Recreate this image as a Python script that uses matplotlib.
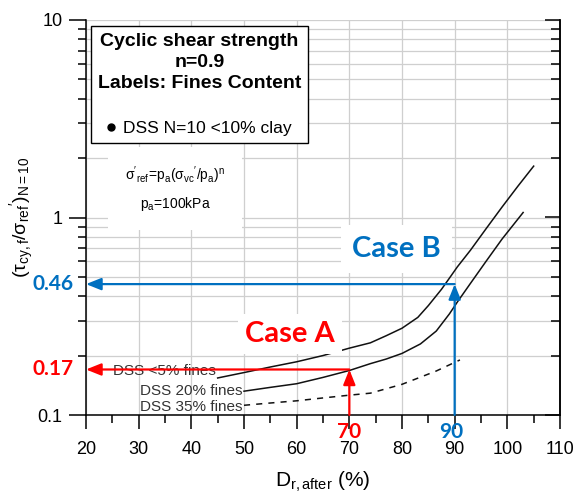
import matplotlib
matplotlib.use("Agg")
import matplotlib.pyplot as plt
from matplotlib.lines import Line2D
from matplotlib.ticker import MultipleLocator, LogLocator, NullFormatter

plt.rcParams["font.family"] = ["Liberation Sans", "DejaVu Sans"]
plt.rcParams["mathtext.fontset"] = "custom"
plt.rcParams["mathtext.rm"] = "Liberation Sans"
plt.rcParams["mathtext.it"] = "Liberation Sans:italic"
plt.rcParams["mathtext.bf"] = "Liberation Sans:bold"

# ------------------------------------------------------------
# Data
# ------------------------------------------------------------
# DSS <5% fines
dr_5 = [45, 50, 55, 60, 65, 70, 74, 77, 80, 83, 85, 87.5, 89, 90.5, 93, 96, 99, 102, 105]
tau_5 = [0.154, 0.164, 0.175, 0.186, 0.200, 0.218, 0.232, 0.252, 0.275, 0.312, 0.358,
         0.433, 0.493, 0.562, 0.683, 0.88, 1.13, 1.44, 1.82]

# DSS 20% fines
dr_20 = [50, 55, 60, 65, 70, 74, 77, 80, 83.5, 86.5, 89, 90.5, 93, 96, 99, 103]
tau_20 = [0.132, 0.138, 0.144, 0.155, 0.168, 0.182, 0.192, 0.205, 0.229, 0.266,
          0.325, 0.373, 0.464, 0.602, 0.778, 1.06]

# DSS 35% fines (dashed)
dr_35 = [50, 55, 60, 65, 70, 74, 80, 86.5, 91]
tau_35 = [0.112, 0.115, 0.118, 0.122, 0.126, 0.129, 0.143, 0.167, 0.190]

curve_labels = ["DSS <5% fines", "DSS 20% fines", "DSS 35% fines"]

# the two worked examples
case_a = (70, 0.17)
case_b = (90, 0.46)

x_ticks = [20, 30, 40, 50, 60, 70, 80, 90, 100, 110]
y_ticks = [0.1, 1, 10]
y_ticklabels = ["0.1", "1", "10"]

RED = "#ff0000"
BLUE = "#0070c0"
GRID = "#cfcfcf"

# ------------------------------------------------------------
fig = plt.figure(figsize=(5.75, 5.0), dpi=100)
ax = fig.add_axes([86 / 575, 85 / 500, 474 / 575, 395 / 500])

ax.set_xlim(20, 110)
ax.set_yscale("log")
ax.set_ylim(0.1, 10)

ax.set_xticks(x_ticks)
ax.xaxis.set_minor_locator(MultipleLocator(5))
ax.set_yticks(y_ticks)
ax.set_yticklabels(y_ticklabels)
ax.yaxis.set_minor_locator(LogLocator(base=10, subs=range(2, 10)))
ax.yaxis.set_minor_formatter(NullFormatter())

ax.tick_params(axis="x", which="major", direction="out", length=10, width=1.1, labelsize=13, pad=9)
ax.tick_params(axis="x", which="minor", direction="out", length=6, width=1.1)
ax.tick_params(axis="y", which="major", direction="out", length=12, width=1.1, labelsize=13, pad=5)
ax.tick_params(axis="y", which="minor", direction="out", length=6, width=1.1)

ax.grid(True, which="major", axis="x", color=GRID, lw=0.9)
ax.grid(True, which="both", axis="y", color=GRID, lw=0.9)
ax.set_axisbelow(True)
ax.spines["top"].set_visible(False)
for s in ["left", "bottom", "right"]:
    ax.spines[s].set_linewidth(1.1)

# right-hand axis with inward ticks only
ax2 = ax.twinx()
ax2.set_yscale("log")
ax2.set_ylim(0.1, 10)
ax2.set_yticks(y_ticks)
ax2.yaxis.set_minor_locator(LogLocator(base=10, subs=range(2, 10)))
ax2.tick_params(axis="y", which="major", direction="in", length=11, width=1.1, labelright=False)
ax2.tick_params(axis="y", which="minor", direction="in", length=6.5, width=1.1, labelright=False)
for s in ["top", "left", "bottom"]:
    ax2.spines[s].set_visible(False)
ax2.spines["right"].set_linewidth(1.1)

# curves
ax.plot(dr_5, tau_5, color="#111111", lw=1.1, zorder=2)
ax.plot(dr_20, tau_20, color="#111111", lw=1.1, zorder=2)
ax.plot(dr_35, tau_35, color="#111111", lw=1.1, ls=(0, (4, 4)), zorder=2)

ax.text(dr_5[0] - 0.3, 0.168, curve_labels[0], ha="right", va="center", fontsize=11, color="#333333", zorder=3)
ax.text(dr_20[0] - 0.3, tau_20[0], curve_labels[1], ha="right", va="center", fontsize=11, color="#333333", zorder=3)
ax.text(dr_35[0] - 0.3, 0.110, curve_labels[2], ha="right", va="center", fontsize=11, color="#333333", zorder=3)

# case arrows
def arrow(x0, y0, x1, y1, color):
    ax.annotate("", xy=(x1, y1), xytext=(x0, y0),
                arrowprops=dict(arrowstyle="-|>,head_length=0.7,head_width=0.28",
                                color=color, lw=1.6, mutation_scale=13,
                                shrinkA=0, shrinkB=0),
                zorder=4)

arrow(case_a[0], 0.1, case_a[0], case_a[1], RED)
arrow(case_a[0], case_a[1], 20, case_a[1], RED)
arrow(case_b[0], 0.1, case_b[0], case_b[1], BLUE)
arrow(case_b[0], case_b[1], 20, case_b[1], BLUE)

case_font = dict(family=["Lato", "DejaVu Sans"], weight="bold")
ax.text(58.7, 0.258, "Case A", ha="center", va="center", fontsize=21, color=RED,
        bbox=dict(fc="white", ec="none", pad=5), zorder=5, **case_font)
ax.text(78.9, 0.69, "Case B", ha="center", va="center", fontsize=21, color=BLUE,
        bbox=dict(fc="white", ec="none", pad=8), zorder=5, **case_font)

ax.text(17.6, case_b[1], "0.46", ha="right", va="center", fontsize=15, color=BLUE, clip_on=False, **case_font)
ax.text(17.6, case_a[1], "0.17", ha="right", va="center", fontsize=15, color=RED, clip_on=False, **case_font)
ax.text(case_a[0], 0.082, "70", ha="center", va="center", fontsize=15, color=RED, clip_on=False, **case_font)
ax.text(case_b[0] - 0.7, 0.082, "90", ha="center", va="center", fontsize=15, color=BLUE, clip_on=False, **case_font)

# formula box
ax.text(36.9, 1.40,
        r"$\mathrm{\sigma{}^{\prime}{}_{ref}\!=\!p_a(\sigma_{vc}{}^{\prime}/p_a)^n}$" + "\n" + r"p$_\mathrm{a}$=100kPa",
        ha="center", va="center", fontsize=10, linespacing=1.7, multialignment="center",
        bbox=dict(fc="white", ec="none", pad=12), zorder=3)

# legend box
dot = Line2D([], [], ls="none", marker="o", ms=5, color="black")
leg = ax.legend([dot], ["DSS N=10 <10% clay"],
                title="Cyclic shear strength\nn=0.9\nLabels: Fines Content\n",
                loc="upper left", bbox_to_anchor=(91 / 575, 474 / 500),
                bbox_transform=fig.transFigure, borderaxespad=0,
                fancybox=False, framealpha=1, edgecolor="black",
                fontsize=12.5, title_fontproperties={"weight": "bold", "size": 14},
                handlelength=0.4, handletextpad=0.5, borderpad=0.4)
leg.get_frame().set_linewidth(1.0)
leg.get_title().set_multialignment("center")
leg.get_title().set_linespacing(1.3)

ax.set_xlabel(r"D$_\mathrm{r,after}$ (%)", fontsize=15, labelpad=8)
ax.set_ylabel(r"$\mathrm{(\tau_{cy,f}/\sigma_{ref}{}^{\prime})_{N=10}}$", fontsize=14, labelpad=1)

fig.savefig("out.png", dpi=100)
